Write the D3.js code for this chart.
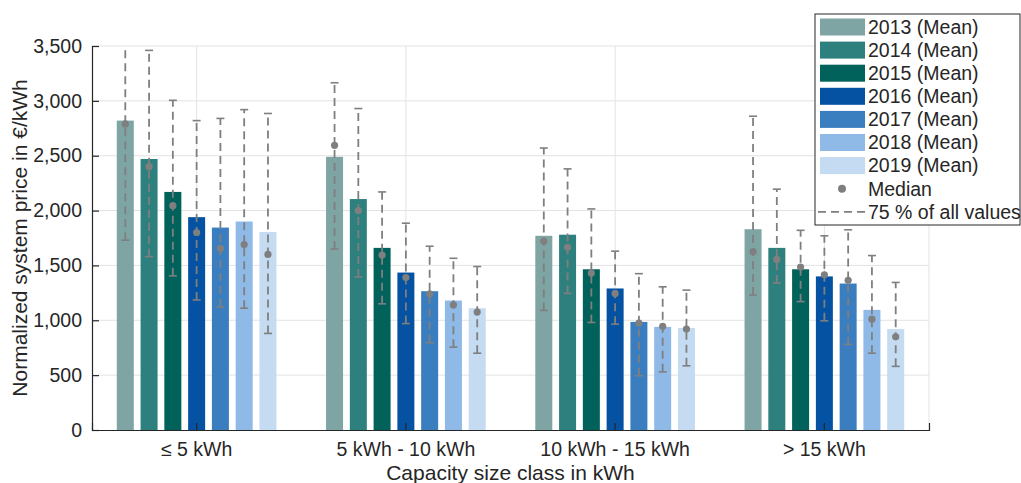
<!DOCTYPE html>
<html>
<head>
<meta charset="utf-8">
<script src="https://cdn.jsdelivr.net/npm/d3@7"></script>
<style>
  html, body { margin: 0; padding: 0; background: #fff; }
  svg { display: block; font-family: "Liberation Sans", Arial, sans-serif; }
</style>
</head>
<body>
<svg id="chart" width="1021" height="483"></svg>
<script>
// ---- Data ----
const categories = ["≤ 5 kWh", "5 kWh - 10 kWh", "10 kWh - 15 kWh", "> 15 kWh"];
const years = ["2013", "2014", "2015", "2016", "2017", "2018", "2019"];
const yearColors = ["#7ea5a3", "#2e807e", "#00625b", "#0552a3", "#3b7ebf", "#8fb9e6", "#c4dbf2"];
const yTicks = [0, 500, 1000, 1500, 2000, 2500, 3000, 3500];

// rows = categories, columns = years 2013..2019 (€/kWh)
const means = [
  [2820, 2470, 2170, 1940, 1845, 1900, 1805],
  [2490, 2105, 1660, 1435, 1265, 1180, 1110],
  [1770, 1780, 1465, 1290, 985, 940, 930],
  [1830, 1660, 1465, 1400, 1335, 1095, 920]
];
const medians = [
  [2790, 2400, 2045, 1800, 1655, 1690, 1600],
  [2595, 2000, 1595, 1390, 1240, 1140, 1075],
  [1720, 1665, 1430, 1245, 975, 945, 920],
  [1625, 1555, 1485, 1415, 1365, 1010, 850]
];
const rangeHigh = [
  [3650, 3460, 3005, 2820, 2840, 2920, 2885],
  [3165, 2930, 2170, 1885, 1675, 1565, 1490],
  [2570, 2380, 2015, 1630, 1425, 1305, 1275],
  [2860, 2195, 1820, 1770, 1825, 1590, 1345]
];
const rangeLow = [
  [1730, 1580, 1405, 1185, 1120, 1110, 880],
  [1650, 1395, 1150, 970, 795, 755, 700],
  [1090, 1245, 980, 965, 495, 530, 585],
  [1230, 1340, 1170, 995, 780, 700, 580]
];

(function () {
// ---- Layout ----
const svg = d3.select("#chart");
const pL = 92, pR = 929, pT = 46, pB = 430;
const textColor = "#262626";
const gridColor = "#e3e3e3";
const whiskerColor = "#7f7f7f";
const fontTick = 19.5;

const x = d3.scaleBand().domain(categories).range([pL, pR]).padding(0);
const inner = x.bandwidth() * 0.763;
const xi = d3.scaleBand().domain(years)
  .range([(x.bandwidth() - inner) / 2, (x.bandwidth() + inner) / 2])
  .paddingInner(0.285).paddingOuter(0);
const y = d3.scaleLinear().domain([0, 3500]).range([pB, pT]);

svg.append("defs").append("clipPath").attr("id", "plotclip")
  .append("rect").attr("x", pL).attr("y", pT).attr("width", pR - pL).attr("height", pB - pT);

// gridlines
const grid = svg.append("g");
grid.selectAll("line.h").data(yTicks.filter(d => d > 0)).join("line")
  .attr("x1", pL).attr("x2", pR)
  .attr("y1", d => y(d)).attr("y2", d => y(d))
  .attr("stroke", gridColor).attr("stroke-width", 1);
grid.selectAll("line.v").data(categories).join("line")
  .attr("x1", d => x(d) + x.bandwidth() / 2).attr("x2", d => x(d) + x.bandwidth() / 2)
  .attr("y1", pT).attr("y2", pB)
  .attr("stroke", gridColor).attr("stroke-width", 1);
grid.append("line").attr("x1", pR).attr("x2", pR).attr("y1", pT).attr("y2", pB)
  .attr("stroke", gridColor).attr("stroke-width", 1);

// bars
const flat = [];
categories.forEach((c, ci) => years.forEach((yr, yi) => flat.push({
  c, yr, yi,
  mean: means[ci][yi], med: medians[ci][yi], lo: rangeLow[ci][yi], hi: rangeHigh[ci][yi]
})));

const plot = svg.append("g").attr("clip-path", "url(#plotclip)");
plot.selectAll("rect.bar").data(flat).join("rect")
  .attr("x", d => x(d.c) + xi(d.yr))
  .attr("width", xi.bandwidth())
  .attr("y", d => y(d.mean))
  .attr("height", d => y(0) - y(d.mean))
  .attr("fill", d => yearColors[d.yi]);

const cx = d => x(d.c) + xi(d.yr) + xi.bandwidth() / 2;
// whiskers (dashed)
plot.selectAll("line.wh").data(flat).join("line")
  .attr("x1", cx).attr("x2", cx)
  .attr("y1", d => y(d.lo)).attr("y2", d => y(d.hi))
  .attr("stroke", whiskerColor).attr("stroke-width", 1.8)
  .attr("stroke-dasharray", "8,5");
// caps
const capW = 4;
["lo", "hi"].forEach(k => {
  plot.append("g").selectAll("line").data(flat.filter(d => d[k] <= 3500)).join("line")
    .attr("x1", d => cx(d) - capW).attr("x2", d => cx(d) + capW)
    .attr("y1", d => y(d[k])).attr("y2", d => y(d[k]))
    .attr("stroke", whiskerColor).attr("stroke-width", 1.6);
});
// medians
plot.selectAll("circle.med").data(flat).join("circle")
  .attr("cx", cx).attr("cy", d => y(d.med)).attr("r", 3.6)
  .attr("fill", whiskerColor);

// axes
const xAxis = svg.append("g").attr("transform", `translate(0,${pB})`)
  .call(d3.axisBottom(x).tickSize(-7).tickPadding(12));
const yAxis = svg.append("g").attr("transform", `translate(${pL},0)`)
  .call(d3.axisLeft(y).tickValues(yTicks).tickFormat(d3.format(",")).tickSize(-7).tickPadding(10));
[xAxis, yAxis].forEach(a => {
  a.selectAll("path, line").attr("stroke", textColor).attr("stroke-width", 1.2);
  a.selectAll("text").attr("fill", textColor).style("font-size", fontTick + "px")
    .style("font-family", '"Liberation Sans", Arial, sans-serif');
});

// axis titles
svg.append("text").attr("x", (pL + pR) / 2).attr("y", 480)
  .attr("text-anchor", "middle").attr("fill", textColor)
  .style("font-size", "21px").text("Capacity size class in kWh");
svg.append("text").attr("transform", `translate(27,${(pT + pB) / 2}) rotate(-90)`)
  .attr("text-anchor", "middle").attr("fill", textColor)
  .style("font-size", "21px").text("Normalized system price in €/kWh");

// legend
const lg = svg.append("g");
const lgLeft = 815, lgTop = 14, lgRight = 1020, lgBottom = 225, rowH = 23.1, row0 = 27;
lg.append("rect").attr("x", lgLeft).attr("y", lgTop).attr("width", lgRight - lgLeft).attr("height", lgBottom - lgTop)
  .attr("fill", "#fff").attr("stroke", textColor).attr("stroke-width", 1);
years.forEach((yr, i) => {
  const cy = row0 + i * rowH;
  lg.append("rect").attr("x", 820).attr("y", cy - 8.5).attr("width", 45).attr("height", 17)
    .attr("fill", yearColors[i]);
  lg.append("text").attr("x", 868).attr("y", cy).attr("dy", "0.35em")
    .attr("fill", textColor).style("font-size", fontTick + "px").text(`${yr} (Mean)`);
});
const medY = row0 + 7 * rowH, qY = row0 + 8 * rowH;
lg.append("circle").attr("cx", 842).attr("cy", medY).attr("r", 4).attr("fill", whiskerColor);
lg.append("text").attr("x", 868).attr("y", medY).attr("dy", "0.35em")
  .attr("fill", textColor).style("font-size", fontTick + "px").text("Median");
lg.append("line").attr("x1", 818).attr("x2", 866).attr("y1", qY).attr("y2", qY)
  .attr("stroke", whiskerColor).attr("stroke-width", 1.8).attr("stroke-dasharray", "8,5");
lg.append("text").attr("x", 868).attr("y", qY).attr("dy", "0.35em")
  .attr("fill", textColor).style("font-size", fontTick + "px").text("75 % of all values");
})();
</script>
</body>
</html>
